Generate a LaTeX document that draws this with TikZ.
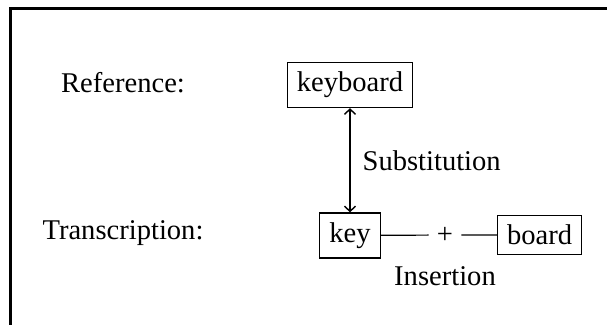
\documentclass[tikz,border=0pt]{standalone}
\usepackage{fontspec}
\setmainfont{Liberation Serif}
\usetikzlibrary{
	arrows.meta,
	positioning
}
\tikzset{
	wordbox/.style={draw, line width=0.5pt, inner sep=4pt},
	editlabel/.style={inner sep=4pt}
}

\begin{document}
\begin{tikzpicture}[x=0.42pt, y=-0.42pt, font=\fontsize{12}{14}\selectfont,
	>={Straight Barb[length=2.2pt, width=4.6pt]}]

	% Canvas
		\useasboundingbox (0,0) rectangle (607,325);
		\draw[line width=1.2pt] (10.5,325) -- (10.5,8.7) -- (607,8.7);

	% Row labels
		\node (reflabel) at (123,83) {Reference:};
		\node (translabel) at (123,233) {Transcription:};

	% Words
		\node[wordbox] (keyboard) at (350,85) {keyboard};
		\node[wordbox] (key) at (350,235.5) {key};
		\node[wordbox] (board) at (539.7,235) {board};
		\node (plus) at (445,235) {+};

	% Edits
		% substitution between reference and transcription
		\draw[<->, line width=0.6pt] (keyboard) -- node[editlabel, right=1pt] (subst) {Substitution} (key);
		% insertion of the second word
		\draw[line width=0.5pt] (key) -- (plus) -- (board);
		\node[editlabel, below=2pt of plus] (insert) {Insertion};
\end{tikzpicture}
\end{document}
